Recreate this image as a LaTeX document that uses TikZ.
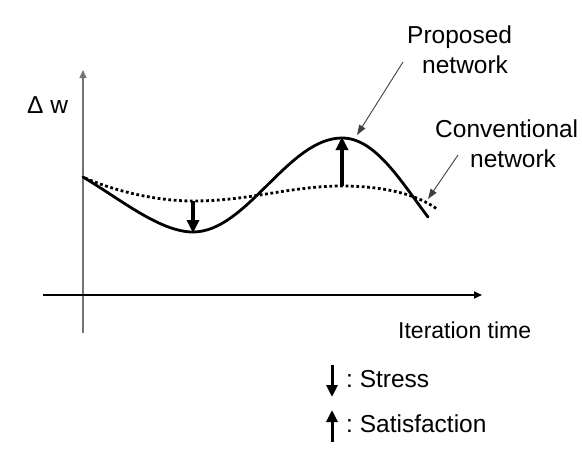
\documentclass[tikz,border=0pt]{standalone}
\usepackage{fontspec}
\setmainfont{Liberation Sans}
\usetikzlibrary{arrows.meta}
\tikzset{
  lbl/.style={inner sep=0pt, anchor=base west, font=\fontsize{24.5}{28}\selectfont},
  axis/.style={line width=1.6pt, -{Triangle[length=8pt,width=7pt]}},
  curvesolid/.style={line width=2.8pt, line cap=round},
  curvedot/.style={line width=2.8pt, dash pattern=on 2.8pt off 2.6pt},
  bigarrow/.style={line width=3.4pt, -{Triangle[length=13pt,width=12pt]}},
  legarrow/.style={line width=3pt, -{Triangle[length=12pt,width=11pt]}},
  pointer/.style={line width=0.9pt, draw=black!75, -{Triangle[length=10pt,width=7pt]}}
}
\begin{document}
\begin{tikzpicture}[x=1pt,y=-1pt]
\useasboundingbox (0,0) rectangle (582,450);
% axes
\coordinate (ybot) at (83,333);
\coordinate (ytop) at (83,70);
\coordinate (xl) at (43,295);
\coordinate (xr) at (482,295);
\draw[axis, draw=black!55, line width=1.4pt] (ybot) -- (ytop);
\draw[axis] (xl) -- (xr);
% curves
\draw[curvedot] (85,178) .. controls (120,193) and (160,201) .. (193,201)
   .. controls (250,201) and (290,186) .. (342,186)
   .. controls (380,186) and (415,193) .. (437,209);
\draw[curvesolid] (83,177) .. controls (120,199) and (160,232) .. (193,232)
   .. controls (247,232) and (288,138) .. (342,138)
   .. controls (375,138) and (400,180) .. (428,217);
% stress / satisfaction arrows
\coordinate (s1) at (193,201);
\coordinate (s2) at (193,233);
\coordinate (p1) at (342,186);
\coordinate (p2) at (342,137);
\draw[bigarrow] (s1) -- (s2);
\draw[bigarrow] (p1) -- (p2);
% labels
\node[lbl] (dw) at (27,113) {Δ w};
\node[lbl] (prop1) at (407,43) {Proposed};
\node[lbl] (prop2) at (422,73) {network};
\node[lbl] (conv1) at (435,137) {Conventional};
\node[lbl] (conv2) at (470,167) {network};
\node[lbl, font=\fontsize{23}{26}\selectfont] (iter) at (398,338) {Iteration time};
% pointers
\coordinate (pp) at (357,135);
\coordinate (cp) at (428,199);
\draw[pointer] (403,62) -- (pp);
\draw[pointer] (458,155) -- (cp);
% legend
\coordinate (l1a) at (332,365);
\coordinate (l1b) at (332,397);
\coordinate (l2a) at (332,442);
\coordinate (l2b) at (332,410);
\draw[legarrow] (l1a) -- (l1b);
\draw[legarrow] (l2a) -- (l2b);
\node[lbl] (stress) at (346,387) {:\ Stress};
\node[lbl] (satis) at (346,432) {:\ Satisfaction};
\end{tikzpicture}
\end{document}
